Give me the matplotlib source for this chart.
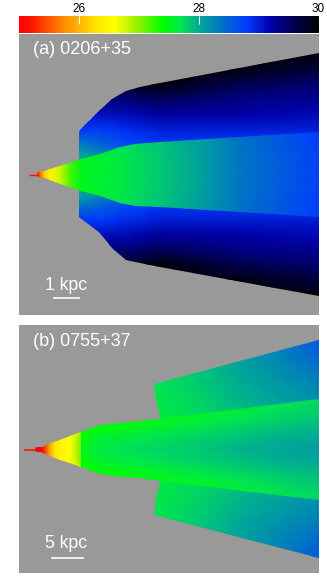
"""Simulated jet maps, two panels with a shared colour bar. Coordinates are image pixels."""
import numpy as np
import matplotlib
matplotlib.use("Agg")
import matplotlib.pyplot as plt
from matplotlib.colors import LinearSegmentedColormap, Normalize
from matplotlib.cm import ScalarMappable
from matplotlib.patches import Polygon

plt.rcParams["font.family"] = ["Liberation Sans", "DejaVu Sans"]
W, H = 327, 580
GRAY = "#999999"
VMIN, VMAX = 25.0, 30.0

# colour scale (log value, rgb)
cmap_vals = [25.0, 25.2, 25.75, 26.3, 26.6, 26.95, 27.4, 27.7, 28.0, 28.4, 28.8, 29.2, 29.6, 30.0]
cmap_cols = ["#ff0000", "#ff1400", "#ff8c00", "#ffe600", "#ffff00", "#a0f000", "#00ff00", "#00e650",
             "#00aa96", "#0070c8", "#003cff", "#0000aa", "#000050", "#000000"]

cbar_ticks = [26, 28, 30]

# panel a ---------------------------------------------------------------
a_center = 174.5
a_outer_top_x = [79, 81, 100, 112, 126, 140, 160, 319]
a_outer_top_y = [132, 129, 110, 99, 91, 87, 83, 53]
a_outer_bot_x = [79, 100, 112, 126, 140, 160, 319]
a_outer_bot_y = [217, 233, 248, 260, 263, 267, 296]
a_jet_x = [37, 38, 45, 50, 60, 81, 100, 120, 135, 160, 319]
a_jet_half = [0.8, 2.8, 3.2, 5.5, 9, 16, 21, 28, 31, 32.5, 42.5]
a_line_x = [29, 38]

a_jet_sx = [29, 37, 41, 45, 50, 60, 70, 81, 120, 160, 200, 240, 280, 319]
a_jet_d = [0, 15, 45]
a_jet_v = [[25.0, 25.1, 25.7, 26.2, 26.5, 26.8, 27.2, 27.5, 27.65, 27.85, 28.05, 28.35, 28.55, 28.75],
           [25.0, 25.1, 25.7, 26.2, 26.5, 26.8, 27.2, 27.5, 27.65, 27.85, 28.05, 28.35, 28.55, 28.75],
           [25.0, 25.1, 25.7, 26.2, 26.5, 26.8, 27.2, 27.6, 27.75, 27.9, 28.1, 28.4, 28.6, 28.8]]

a_coc_sx = [78, 100, 130, 160, 240, 319]
a_coc_d = [0, 20, 33, 45, 60, 75, 90, 105, 125]
a_coc_v = [[28.0, 28.1, 28.7, 28.8, 28.8, 28.8],
           [28.0, 28.2, 28.7, 28.8, 28.8, 28.8],
           [28.4, 28.55, 28.75, 28.85, 28.85, 28.85],
           [28.85, 28.8, 28.9, 29.0, 29.0, 29.0],
           [29.05, 29.1, 29.15, 29.25, 29.2, 29.15],
           [29.3, 29.4, 29.45, 29.55, 29.35, 29.3],
           [29.6, 29.7, 29.8, 29.95, 29.6, 29.45],
           [29.9, 30.0, 30.0, 30.0, 29.9, 29.7],
           [30.0, 30.0, 30.0, 30.0, 30.0, 30.0]]

# panel b ---------------------------------------------------------------
b_center = 449.5
b_jet_x = [35, 36, 41, 43, 48, 60, 70, 81, 100, 120, 140, 160, 319]
b_jet_half = [0.9, 2.5, 2.5, 3, 5.5, 10, 13.5, 17.5, 24.5, 27, 28.5, 31, 50.5]
b_line_x = [24, 36]
b_jet_sx = [24, 42, 46, 50, 55, 62, 70, 78, 80.5, 81.5, 100, 140, 200, 240, 280, 319]
b_jet_d = [0, 10, 20, 30, 42, 52]
b_jet_v = [[25.0, 25.0, 25.5, 25.9, 26.3, 26.5, 26.6, 26.95, 27.1, 27.5, 27.65, 27.75, 27.85, 27.95, 28.02, 28.08],
           [25.0, 25.0, 25.5, 25.9, 26.3, 26.5, 26.6, 26.9, 27.05, 27.45, 27.6, 27.7, 27.82, 27.9, 27.98, 28.02],
           [25.0, 25.0, 25.5, 25.9, 26.3, 26.5, 26.6, 26.8, 26.9, 27.4, 27.45, 27.55, 27.72, 27.82, 27.9, 27.95],
           [25.0, 25.0, 25.5, 25.9, 26.3, 26.5, 26.6, 26.8, 26.9, 27.4, 27.4, 27.45, 27.58, 27.7, 27.8, 27.88],
           [25.0, 25.0, 25.5, 25.9, 26.3, 26.5, 26.6, 26.8, 26.9, 27.4, 27.4, 27.42, 27.5, 27.6, 27.72, 27.8],
           [25.0, 25.0, 25.5, 25.9, 26.3, 26.5, 26.6, 26.8, 26.9, 27.4, 27.4, 27.4, 27.45, 27.55, 27.68, 27.75]]

b_wing_x = [160, 156, 154, 319, 319, 154, 156, 160]
b_wing_y = [417, 400, 384, 340, 558, 515, 499, 482]
b_wing_sx = [150, 200, 240, 280, 319]
b_wing_d = [25, 50, 70, 90, 110]
b_wing_v = [[27.6, 27.75, 27.85, 27.95, 28.05],
            [27.65, 27.8, 27.95, 28.05, 28.2],
            [27.7, 27.85, 28.0, 28.15, 28.3],
            [27.75, 27.9, 28.05, 28.25, 28.45],
            [27.8, 27.95, 28.1, 28.3, 28.6]]

cmap = LinearSegmentedColormap.from_list(
    "jetmap", [((v - VMIN) / (VMAX - VMIN), c) for v, c in zip(cmap_vals, cmap_cols)], N=512)
norm = Normalize(VMIN, VMAX)


def px_axes(fig, x0, y0, x1, y1):
    """axes from image pixel box (y measured from the top)"""
    ax = fig.add_axes([x0 / W, 1 - y1 / H, (x1 - x0) / W, (y1 - y0) / H])
    ax.set_xlim(x0, x1)
    ax.set_ylim(y1, y0)
    ax.set_facecolor(GRAY)
    ax.set_xticks([])
    ax.set_yticks([])
    for s in ax.spines.values():
        s.set_visible(False)
    return ax


def field(ax, center, sx, d, vals, outline):
    """mirror a value table about the jet axis, shade it and clip it to the outline"""
    d = np.asarray(d, float)
    v = np.asarray(vals, float)
    keep = d > 0
    yy = np.r_[center - d[keep][::-1], center + d] if d[0] == 0 else np.r_[center - d[::-1], center + d]
    vv = np.vstack([v[keep][::-1], v]) if d[0] == 0 else np.vstack([v[::-1], v])
    m = ax.pcolormesh(sx, yy, vv, shading="gouraud", cmap=cmap, norm=norm, zorder=2)
    p = Polygon(outline, closed=True, transform=ax.transData, fc="none", ec="none")
    ax.add_patch(p)
    m.set_clip_path(p)


def jet_outline(center, x, half):
    x, half = np.asarray(x, float), np.asarray(half, float)
    return np.c_[np.r_[x, x[::-1]], np.r_[center - half, (center + half)[::-1]]]


fig = plt.figure(figsize=(W / 100, H / 100), dpi=100, facecolor="white")

# colour bar
cax = fig.add_axes([19 / W, 1 - 32.5 / H, 299.5 / W, 16.5 / H])
cb = fig.colorbar(ScalarMappable(norm=norm, cmap=cmap), cax=cax, orientation="horizontal")
cb.outline.set_visible(False)
cb.set_ticks(cbar_ticks, labels=[str(t) for t in cbar_ticks])
cax.xaxis.set_ticks_position("top")
cax.tick_params(axis="x", direction="in", length=6, width=0.8, color="white", pad=1, labelsize=8.5, labelcolor="black")

# panel a
ax = px_axes(fig, 19, 34, 319, 315)
a_outer = np.r_[np.c_[a_outer_top_x, a_outer_top_y], np.c_[a_outer_bot_x, a_outer_bot_y][::-1]]
field(ax, a_center, a_coc_sx, a_coc_d, a_coc_v, a_outer)
field(ax, a_center, a_jet_sx, a_jet_d, a_jet_v, jet_outline(a_center, a_jet_x, a_jet_half))
ax.plot(a_line_x, [a_center, a_center], color="#ff1400", lw=1.0, solid_capstyle="butt", zorder=3)
ax.text(33, 50, "(a) 0206+35", color="white", fontsize=13, ha="left", va="center")
ax.text(66, 285, "1 kpc", color="white", fontsize=12.7, ha="center", va="center")
ax.plot([54, 79], [298, 298], color="white", lw=1.2, zorder=5)

# panel b
ax = px_axes(fig, 19, 324.5, 319, 573)
field(ax, b_center, b_wing_sx, b_wing_d, b_wing_v, np.c_[b_wing_x, b_wing_y])
field(ax, b_center, b_jet_sx, b_jet_d, b_jet_v, jet_outline(b_center, b_jet_x, b_jet_half))
ax.plot(b_line_x, [b_center, b_center], color="#ff1400", lw=1.2, solid_capstyle="butt", zorder=3)
ax.text(33, 341, "(b) 0755+37", color="white", fontsize=13, ha="left", va="center")
ax.text(66, 544, "5 kpc", color="white", fontsize=12.7, ha="center", va="center")
ax.plot([52, 83], [557.5, 557.5], color="white", lw=1.2, zorder=5)

fig.savefig("out.png", dpi=100, facecolor="white")
